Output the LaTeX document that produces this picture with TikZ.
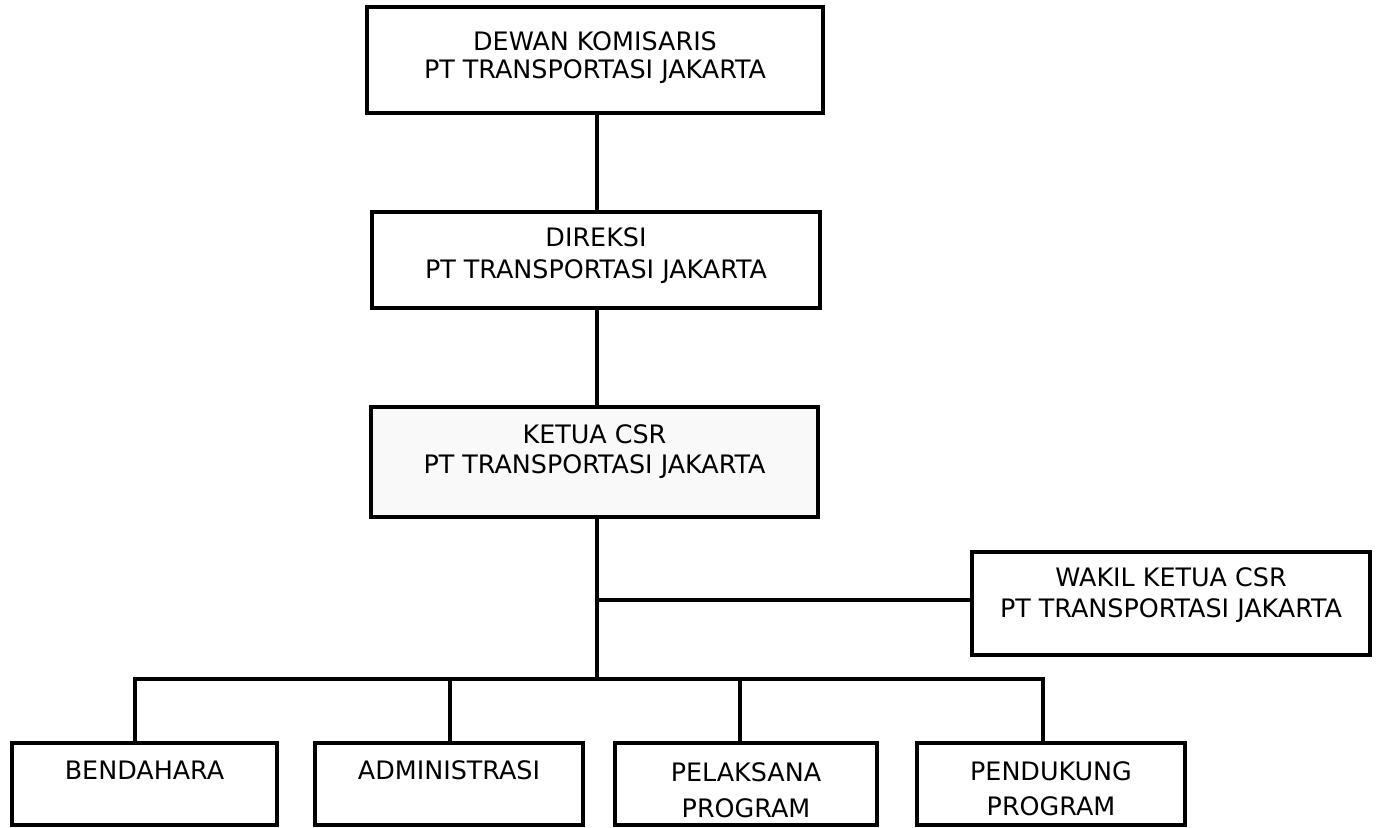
\documentclass[tikz,border=0pt]{standalone}
\usepackage{fontspec}
\setmainfont{DejaVu Sans}
\begin{document}
\begin{tikzpicture}[x=1pt,y=-1pt,
  box/.style={draw=black, line width=3.5pt, inner sep=0pt, fill=white},
  txt/.style={align=center, inner sep=0pt, font=\fontsize{25.4}{#1}\selectfont},
  txt/.default=30,
  link/.style={draw=black, line width=3.3pt}]
\useasboundingbox (0,0) rectangle (1378,827);
% boxes
\node[box, minimum width=456pt, minimum height=106pt] (dk) at (595,60) {};
\node[box, minimum width=448pt, minimum height=96pt] (dr) at (596,260) {};
\node[box, fill=gray!5, minimum width=447pt, minimum height=110pt] (kc) at (594.5,462) {};
\node[box, minimum width=398pt, minimum height=103pt] (wk) at (1171,603.5) {};
\node[box, minimum width=265pt, minimum height=82pt] (bd) at (144.5,784) {};
\node[box, minimum width=268pt, minimum height=82pt] (ad) at (449,784) {};
\node[box, minimum width=262pt, minimum height=82pt] (pl) at (746,784) {};
\node[box, minimum width=268pt, minimum height=82pt] (pd) at (1051,784) {};
% texts
\node[txt=28] (dkt) at (595,58) {DEWAN KOMISARIS\\PT TRANSPORTASI JAKARTA};
\node[txt=32] (drt) at (596,256) {DIREKSI\\PT TRANSPORTASI JAKARTA};
\node[txt=30] (kct) at (594.5,452) {KETUA CSR\\PT TRANSPORTASI JAKARTA};
\node[txt=31] (wkt) at (1171,595.5) {WAKIL KETUA CSR\\PT TRANSPORTASI JAKARTA};
\node[txt] (bdt) at (144.5,770) {BENDAHARA};
\node[txt] (adt) at (449,770) {ADMINISTRASI};
\node[txt=36] (plt) at (746,790) {PELAKSANA\\PROGRAM};
\node[txt=35] (pdt) at (1051,789) {PENDUKUNG\\PROGRAM};
% connector points
\coordinate (spine) at (597,0);
\coordinate (wj) at (597,600);
\coordinate (hb) at (597,679);
\coordinate (bl) at (135,679);
\coordinate (d2) at (450,679);
\coordinate (d3) at (740,679);
\coordinate (br) at (1043,679);
% connectors
\draw[link] (dk.south -| spine) -- (dr.north -| spine);
\draw[link] (dr.south -| spine) -- (kc.north -| spine);
\draw[link] (kc.south -| spine) -- (hb);
\draw[link] (wj) -- (wj -| wk.west);
\draw[link] (bl |- bd.north) -- (bl) -- (br) -- (br |- pd.north);
\draw[link] (d2) -- (d2 |- ad.north);
\draw[link] (d3) -- (d3 |- pl.north);
\end{tikzpicture}
\end{document}
